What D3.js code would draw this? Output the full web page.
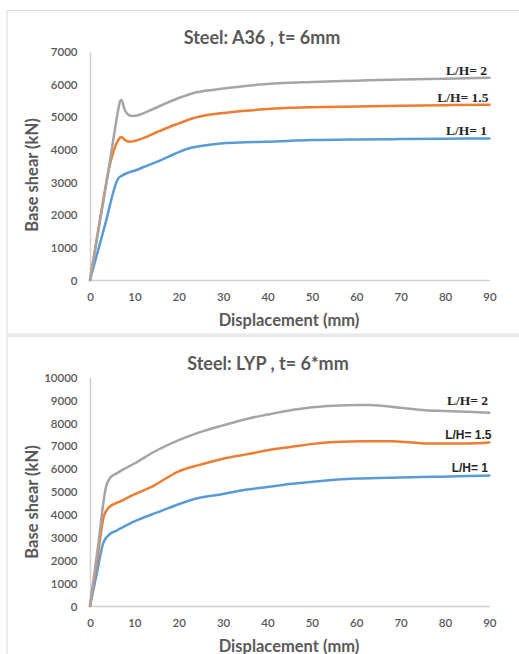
<!DOCTYPE html>
<html>
<head>
<meta charset="utf-8">
<script src="https://cdn.jsdelivr.net/npm/d3@7"></script>
<style>
  html, body { margin: 0; padding: 0; background: #fff; }
  svg { display: block; }
</style>
</head>
<body>
<svg id="chart" width="519" height="654"></svg>
<script>
// Displacement ticks shared by both panels
const dispTicks = [0, 10, 20, 30, 40, 50, 60, 70, 80, 90];
const shearTicksA36 = [0, 1000, 2000, 3000, 4000, 5000, 6000, 7000];
const shearTicksLYP = [0, 1000, 2000, 3000, 4000, 5000, 6000, 7000, 8000, 9000, 10000];

// A36 steel, t = 6 mm : [displacement (mm), base shear (kN)]
const a36_LH1 = [[0,0],[3.4,1700],[6.4,3120],[7.2,3200],[8.6,3290],[10,3350],[12.4,3480],[15,3620],[18,3800],[20,3920],[23,4060],[25,4110],[30,4190],[35,4220],[40,4240],[50,4290],[60,4310],[70,4320],[80,4330],[90,4340]];
const a36_LH15 = [[0,0],[2,1650],[4.5,3550],[6.2,4250],[6.8,4370],[7.2,4380],[7.8,4300],[9,4240],[10,4260],[12,4350],[15,4530],[18,4700],[20,4800],[23,4950],[25,5020],[28,5090],[30,5120],[35,5190],[40,5240],[45,5280],[50,5300],[60,5320],[70,5340],[80,5360],[90,5370]];
const a36_LH2 = [[0,0],[2.2,1760],[3.5,2800],[5.6,4600],[6.4,5250],[6.9,5520],[7.2,5500],[7.7,5260],[8.5,5080],[9.5,5030],[11,5060],[13,5170],[16,5350],[20,5580],[23,5720],[26,5800],[30,5870],[35,5950],[40,6010],[50,6070],[60,6110],[70,6150],[80,6170],[90,6200]];

// LYP steel, t = 6* mm
const lyp_LH1 = [[0,0],[1.5,1400],[3.0,2760],[4.5,3150],[6,3300],[10,3700],[15,4080],[20,4450],[24,4700],[30,4900],[35,5080],[40,5200],[45,5330],[52,5470],[60,5570],[70,5620],[78,5650],[85,5680],[90,5710]];
const lyp_LH15 = [[0,0],[1.6,2000],[3.2,3980],[4.5,4350],[6.7,4560],[10,4880],[14,5220],[20,5890],[24.5,6160],[30,6440],[35.5,6640],[40,6810],[45.5,6960],[50.8,7100],[55,7170],[62,7200],[68,7200],[72,7160],[75.5,7110],[85,7110],[90,7150]];
const lyp_LH2 = [[0,0],[1.8,2600],[3.6,5200],[4.5,5600],[6,5800],[10,6230],[15,6800],[20,7250],[24.5,7580],[30,7900],[35.5,8190],[40,8370],[45.5,8570],[50,8690],[55,8760],[60.5,8790],[63,8790],[70,8670],[75.5,8560],[80,8530],[85,8490],[90,8450]];

const seriesColors = { lh1: "#5b9bd5", lh15: "#ed7d31", lh2: "#a5a5a5" };

const svg = d3.select("#chart");
const textGray = "#595959";
const uiFont = "Lato, 'Open Sans', sans-serif";

// Panel frame: left rule, top rule and the grey band separating the panels
svg.append("line").attr("x1", 7).attr("x2", 7).attr("y1", 10.5).attr("y2", 654)
  .attr("stroke", "#d9d9d9").attr("stroke-width", 1);
svg.append("line").attr("x1", 7).attr("x2", 519).attr("y1", 10.5).attr("y2", 10.5)
  .attr("stroke", "#d9d9d9").attr("stroke-width", 1);
svg.append("rect").attr("x", 7).attr("y", 333.3).attr("width", 512).attr("height", 4)
  .attr("fill", "#ebebeb");

function drawPanel(opt) {
  const x = d3.scaleLinear().domain([0, 90]).range([opt.left, opt.right]);
  const y = d3.scaleLinear().domain([0, opt.yMax]).range([opt.bottom, opt.top]);
  const g = svg.append("g");

  // Axes (no tick marks, light grey domain lines)
  const xAxis = d3.axisBottom(x).tickValues(dispTicks).tickFormat(d3.format("d"))
    .tickSize(0).tickPadding(0);
  const yAxis = d3.axisLeft(y).tickValues(opt.yTicks).tickFormat(d3.format("d"))
    .tickSize(0).tickPadding(0);

  const gx = g.append("g").attr("transform", `translate(0,${opt.bottom})`).call(xAxis);
  gx.select(".domain").attr("stroke", "#d0d0d0").attr("stroke-width", 1.5);
  gx.selectAll("text").attr("font-family", uiFont).attr("font-size", 11.5)
    .attr("font-weight", 600).attr("fill", textGray).attr("dy", null).attr("y", 21);

  const gy = g.append("g").attr("transform", `translate(${opt.left},0)`).call(yAxis);
  gy.select(".domain").attr("stroke", "#d0d0d0").attr("stroke-width", 1.5);
  gy.selectAll("text").attr("font-family", uiFont).attr("font-size", 11.5)
    .attr("font-weight", 600).attr("fill", textGray).attr("x", -12.5).attr("dy", "0.35em");

  // Title and axis titles
  g.append("text").attr("x", opt.titleX).attr("y", opt.titleY)
    .attr("text-anchor", "middle").attr("font-family", uiFont)
    .attr("font-size", 18).attr("font-weight", 700).attr("fill", textGray)
    .text(opt.title);
  g.append("text").attr("x", 289).attr("y", opt.bottom + 45.5)
    .attr("text-anchor", "middle").attr("font-family", uiFont)
    .attr("font-size", 16.5).attr("font-weight", 700).attr("fill", textGray)
    .text("Displacement (mm)");
  g.append("text").attr("transform", `translate(38,${opt.yTitleY}) rotate(-90)`)
    .attr("text-anchor", "middle").attr("font-family", uiFont)
    .attr("font-size", 16.5).attr("font-weight", 700).attr("fill", textGray)
    .text("Base shear (kN)");

  // Curves
  const line = d3.line().x(d => x(d[0])).y(d => y(d[1])).curve(d3.curveMonotoneX);
  opt.series.forEach(s => {
    g.append("path").datum(s.data).attr("d", line)
      .attr("fill", "none").attr("stroke", s.color).attr("stroke-width", 2.5)
      .attr("stroke-linejoin", "round").attr("stroke-linecap", "round");
  });

  // Curve labels
  opt.series.forEach(s => {
    g.append("text").attr("x", s.lx).attr("y", s.ly)
      .attr("text-anchor", "end").attr("font-family", s.font)
      .attr("font-size", s.size).attr("font-weight", 700).attr("fill", "#262626")
      .text(s.label);
  });
}

const serif = "'Liberation Serif', 'Times New Roman', serif";
const sans = "'Liberation Sans', Arial, sans-serif";

drawPanel({
  left: 90, right: 489.5, top: 51.7, bottom: 280, yMax: 7000, yTicks: shearTicksA36,
  title: "Steel: A36 , t= 6mm", titleX: 262, titleY: 43.5, yTitleY: 175,
  series: [
    { data: a36_LH1, color: seriesColors.lh1, label: "L/H= 1", lx: 487, ly: 134.5, font: serif, size: 13.5 },
    { data: a36_LH15, color: seriesColors.lh15, label: "L/H= 1.5", lx: 488.5, ly: 101.5, font: serif, size: 13.5 },
    { data: a36_LH2, color: seriesColors.lh2, label: "L/H= 2", lx: 487, ly: 74.5, font: serif, size: 13.5 }
  ]
});

drawPanel({
  left: 90, right: 489.3, top: 377.3, bottom: 606, yMax: 10000, yTicks: shearTicksLYP,
  title: "Steel: LYP , t= 6*mm", titleX: 268, titleY: 369.5, yTitleY: 502,
  series: [
    { data: lyp_LH1, color: seriesColors.lh1, label: "L/H= 1", lx: 488, ly: 471.5, font: sans, size: 12 },
    { data: lyp_LH15, color: seriesColors.lh15, label: "L/H= 1.5", lx: 491.5, ly: 438.5, font: sans, size: 12 },
    { data: lyp_LH2, color: seriesColors.lh2, label: "L/H= 2", lx: 488, ly: 404.5, font: serif, size: 13.5 }
  ]
});
</script>
</body>
</html>
